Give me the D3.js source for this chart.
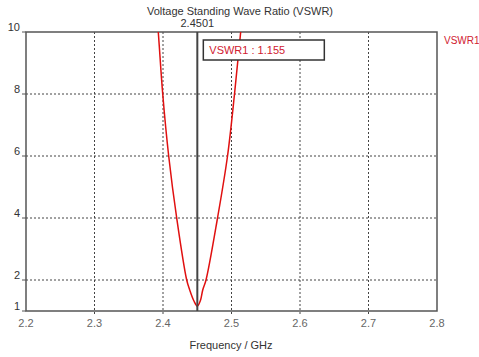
<!DOCTYPE html>
<html>
<head>
<meta charset="utf-8">
<script src="https://cdn.jsdelivr.net/npm/d3@7"></script>
<style>
  body { margin: 0; background: #fff; }
  svg text { font-family: "Liberation Sans", Arial, sans-serif; font-size: 11px; }
</style>
</head>
<body>
<div id="chart"></div>
<script>
// curve (GHz, VSWR)
const freq = [2.386, 2.3931, 2.3996, 2.4083, 2.4200, 2.4346, 2.4390, 2.4450, 2.4501, 2.4545, 2.4580, 2.4628, 2.4796, 2.4942, 2.5044, 2.5134, 2.522];
const vswr = [12, 10, 8, 6, 4, 2, 1.677, 1.33, 1.155, 1.33, 1.677, 2, 4, 6, 8, 10, 12];
const xTicks = [2.2, 2.3, 2.4, 2.5, 2.6, 2.7, 2.8];
const yTicks = [1, 2, 4, 6, 8, 10];
const markerFreq = 2.4501;
const markerVal = 1.155;

const width = 479, height = 357;
const margin = { top: 32, right: 42, bottom: 46, left: 26 };
const w = 437 - margin.left;
const h = 311 - margin.top;

const svg = d3.select('#chart').append('svg')
  .attr('width', width).attr('height', height);

const g = svg.append('g')
  .attr('transform', `translate(${margin.left},${margin.top})`);

const x = d3.scaleLinear().domain([2.2, 2.8]).range([0, w]);
const y = d3.scaleLinear().domain([1, 10]).range([h, 0]);

// grid
g.selectAll('.vgrid').data(xTicks.slice(1, -1)).enter().append('line')
  .attr('x1', d => x(d)).attr('x2', d => x(d))
  .attr('y1', 0).attr('y2', h + 4)
  .attr('stroke', '#444').attr('stroke-width', 1)
  .attr('stroke-dasharray', '2,2');
g.selectAll('.hgrid').data(yTicks.slice(1, -1)).enter().append('line')
  .attr('x1', 0).attr('x2', w)
  .attr('y1', d => y(d)).attr('y2', d => y(d))
  .attr('stroke', '#444').attr('stroke-width', 1)
  .attr('stroke-dasharray', '2,2');

// y tick labels and short ticks
g.selectAll('.ytick').data(yTicks).enter().append('line')
  .attr('x1', -4).attr('x2', 0)
  .attr('y1', d => y(d)).attr('y2', d => y(d))
  .attr('stroke', '#555');
g.selectAll('.ylab').data(yTicks).enter().append('text')
  .attr('x', -6).attr('y', d => y(d) - 1)
  .attr('text-anchor', 'end').attr('fill', '#333')
  .text(d => d);

// x tick labels
g.selectAll('.xlab').data(xTicks).enter().append('text')
  .attr('x', d => x(d)).attr('y', h + 16)
  .attr('text-anchor', 'middle').attr('fill', '#666')
  .text(d => d3.format('.1f')(d));

// frame
g.append('rect').attr('width', w).attr('height', h)
  .attr('fill', 'none').attr('stroke', '#555').attr('stroke-width', 1.5);

// curve
g.append('clipPath').attr('id', 'clip').append('rect')
  .attr('width', w).attr('height', h);
const line = d3.line().curve(d3.curveCatmullRom.alpha(0.5))
  .x((d, i) => x(freq[i])).y(d => y(d));
g.append('path').datum(vswr)
  .attr('clip-path', 'url(#clip)')
  .attr('d', line)
  .attr('fill', 'none').attr('stroke', '#e01010').attr('stroke-width', 1.5);

// marker
g.append('line')
  .attr('x1', x(markerFreq)).attr('x2', x(markerFreq))
  .attr('y1', 0).attr('y2', h)
  .attr('stroke', '#444').attr('stroke-width', 2);
g.append('text')
  .attr('x', x(markerFreq)).attr('y', -5)
  .attr('text-anchor', 'middle').attr('fill', '#333')
  .text(markerFreq.toFixed(4));

// marker readout box
g.append('rect')
  .attr('x', x(markerFreq) + 6).attr('y', 8)
  .attr('width', 121).attr('height', 20)
  .attr('fill', '#fff').attr('stroke', '#333').attr('stroke-width', 1.5);
g.append('text')
  .attr('x', x(markerFreq) + 12).attr('y', 22)
  .attr('fill', '#d02030')
  .text(`VSWR1 : ${markerVal}`);

// legend
svg.append('text')
  .attr('x', 444).attr('y', 44)
  .attr('fill', '#d02030')
  .style('font-size', '10px')
  .text('VSWR1');

// titles
svg.append('text')
  .attr('x', 240).attr('y', 15)
  .attr('text-anchor', 'middle').attr('fill', '#333')
  .text('Voltage Standing Wave Ratio (VSWR)');
svg.append('text')
  .attr('x', 231).attr('y', 349)
  .attr('text-anchor', 'middle').attr('fill', '#333')
  .text('Frequency / GHz');
</script>
</body>
</html>
